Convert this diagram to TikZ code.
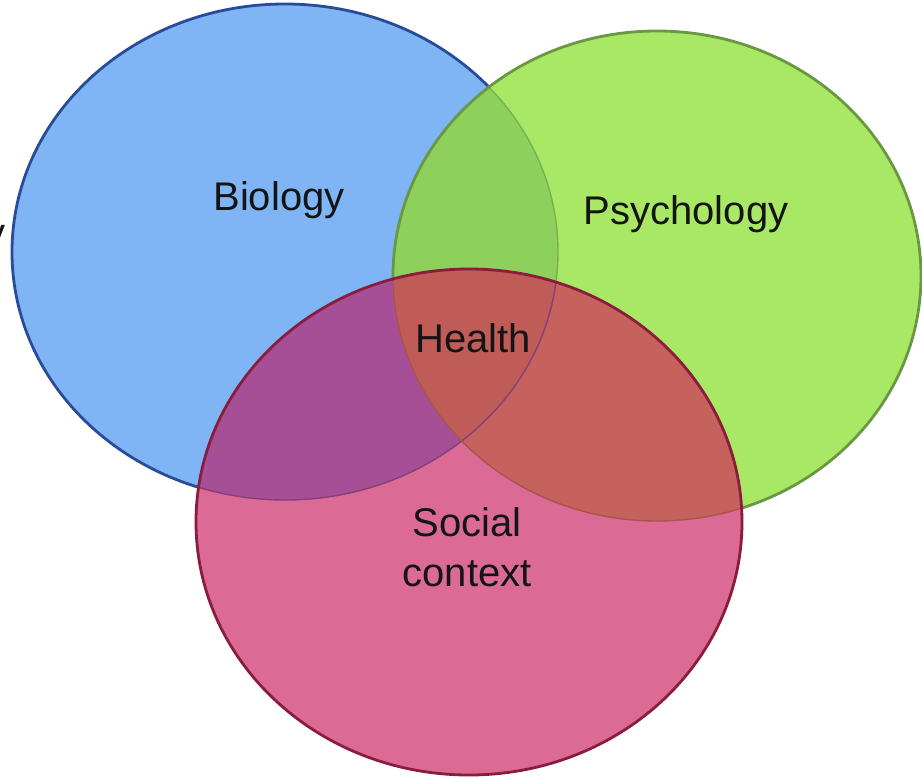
\documentclass[tikz,border=0pt]{standalone}
\usepackage{fontspec}
\setmainfont{Liberation Sans}
\definecolor{bluef}{HTML}{80B5F5}
\definecolor{blues}{HTML}{284C9A}
\definecolor{greenf}{HTML}{A8E864}
\definecolor{greens}{HTML}{6A9842}
\definecolor{bgf}{HTML}{8DD05C}
\definecolor{pinkf}{HTML}{DB6B95}
\definecolor{pinks}{HTML}{8A1C3E}
\definecolor{bpf}{HTML}{A64F97}
\definecolor{gpf}{HTML}{C6625D}
\definecolor{bgpf}{HTML}{BF5C58}
\definecolor{txt}{HTML}{141414}
\tikzset{
  lbl/.style={font=\fontsize{40}{46}\selectfont, text=txt, inner sep=0pt, anchor=base},
  edge/.style={line width=2.8pt}
}
\def\Bc{(285,252) ellipse [x radius=273pt, y radius=248pt]}
\def\Gc{(657,276) ellipse [x radius=264pt, y radius=245pt]}
\def\Pc{(469,522) ellipse [x radius=273pt, y radius=253pt]}
\begin{document}
\begin{tikzpicture}[x=1pt,y=-1pt]
\fill[white] (0,0) rectangle (922,779);
\useasboundingbox (0,0) rectangle (922,779);
% Biology circle
\fill[bluef] \Bc;
\draw[edge, blues] \Bc;
% Psychology circle
\fill[greenf] \Gc;
\begin{scope}
  \clip \Bc;
  \fill[bgf] \Gc;
\end{scope}
\begin{scope}
  \clip \Gc;
  \draw[line width=1.4pt, bgf!85!black] \Bc;
\end{scope}
\draw[edge, greens] \Gc;
% Social context circle
\fill[pinkf] \Pc;
\begin{scope}
  \clip \Pc;
  \fill[bpf] \Bc;
  \fill[gpf] \Gc;
  \clip \Bc;
  \fill[bgpf] \Gc;
\end{scope}
\begin{scope}
  \clip \Pc;
  \draw[line width=1.4pt, bpf!80!black] \Bc;
  \draw[line width=1.4pt, gpf!85!black] \Gc;
\end{scope}
\draw[edge, pinks] \Pc;
% labels
\node[lbl] (bio) at (279,210) {Biology};
\node[lbl] (psy) at (686,224) {Psychology};
\node[lbl] (hea) at (473,352) {Health};
\node[lbl] (soc) at (467,536) {Social};
\node[lbl] (con) at (467,586) {context};
\node[lbl, anchor=base east] (frag) at (6,246) {y};
\end{tikzpicture}
\end{document}
